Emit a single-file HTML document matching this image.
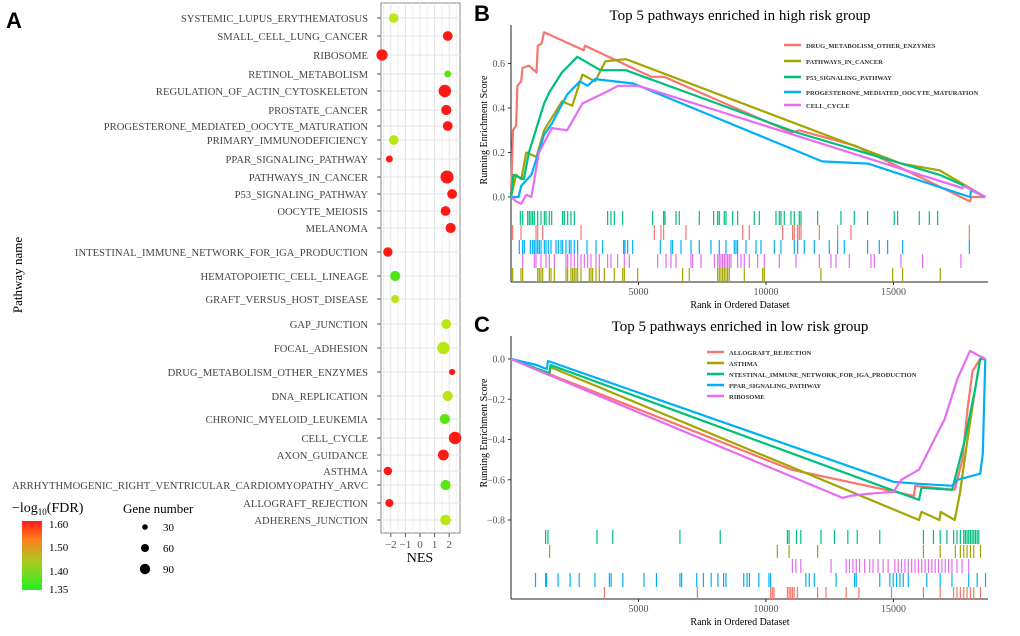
<!DOCTYPE html>
<html><head><meta charset="utf-8"><style>
body{margin:0;background:#fff;}
svg{display:block;font-family:"Liberation Serif",serif;}
</style></head><body>
<svg id="fig" width="1020" height="636" viewBox="0 0 1020 636"></svg>
<script>
// ---- Panel A data ----
const pathways=["SYSTEMIC_LUPUS_ERYTHEMATOSUS","SMALL_CELL_LUNG_CANCER","RIBOSOME","RETINOL_METABOLISM","REGULATION_OF_ACTIN_CYTOSKELETON","PROSTATE_CANCER","PROGESTERONE_MEDIATED_OOCYTE_MATURATION","PRIMARY_IMMUNODEFICIENCY","PPAR_SIGNALING_PATHWAY","PATHWAYS_IN_CANCER","P53_SIGNALING_PATHWAY","OOCYTE_MEIOSIS","MELANOMA","INTESTINAL_IMMUNE_NETWORK_FOR_IGA_PRODUCTION","HEMATOPOIETIC_CELL_LINEAGE","GRAFT_VERSUS_HOST_DISEASE","GAP_JUNCTION","FOCAL_ADHESION","DRUG_METABOLISM_OTHER_ENZYMES","DNA_REPLICATION","CHRONIC_MYELOID_LEUKEMIA","CELL_CYCLE","AXON_GUIDANCE","ASTHMA","ARRHYTHMOGENIC_RIGHT_VENTRICULAR_CARDIOMYOPATHY_ARVC","ALLOGRAFT_REJECTION","ADHERENS_JUNCTION"];
const rowY=[18,36,55,74,91,110,126,140,159,177,194,211,228,252,276,299,324,348,372,396,419,438,455,471,485,503,520];
const nes=[-1.8,1.9,-2.6,1.9,1.7,1.8,1.9,-1.8,-2.1,1.85,2.2,1.75,2.1,-2.2,-1.7,-1.7,1.8,1.6,2.2,1.9,1.7,2.4,1.6,-2.2,1.75,-2.1,1.75];
const geneNum=[45,50,70,20,90,55,50,50,20,100,50,50,55,45,55,30,50,90,15,55,55,90,65,35,55,30,60];
const fdr=[1.45,1.6,1.6,1.38,1.6,1.6,1.6,1.45,1.6,1.6,1.6,1.6,1.6,1.6,1.37,1.45,1.45,1.45,1.6,1.45,1.38,1.6,1.6,1.6,1.38,1.6,1.45];
const nesTicks=[-2,-1,0,1,2];
// ---- Panel B data ----
const bNames=["DRUG_METABOLISM_OTHER_ENZYMES","PATHWAYS_IN_CANCER","P53_SIGNALING_PATHWAY","PROGESTERONE_MEDIATED_OOCYTE_MATURATION","CELL_CYCLE"];
const bRed=[[0,0],[80,0.3],[200,0.32],[250,0.5],[400,0.52],[450,0.58],[700,0.59],[1000,0.56],[1050,0.68],[1200,0.69],[1300,0.74],[2850,0.66],[2900,0.68],[5500,0.54],[6000,0.54],[11000,0.29],[11300,0.30],[13500,0.23],[18000,-0.02],[18050,0.0],[18600,0]];
const bOlive=[[0,0],[200,0.1],[400,0.08],[600,0.2],[1000,0.18],[1300,0.3],[2000,0.43],[2400,0.41],[2800,0.55],[3300,0.52],[3700,0.61],[4500,0.62],[15300,0.15],[16800,0.12],[18600,0]];
const bGreen=[[0,0],[100,0.1],[500,0.08],[700,0.2],[1300,0.42],[1500,0.47],[2000,0.56],[2600,0.63],[3500,0.57],[4500,0.57],[11200,0.29],[16800,0.1],[17600,0.06],[18600,0]];
const bBlue=[[0,0],[300,0],[400,0.05],[800,0.1],[1300,0.28],[1600,0.33],[2200,0.46],[2700,0.52],[3000,0.5],[3300,0.53],[4800,0.51],[12200,0.16],[14000,0.15],[18000,0.0],[18050,0.03],[18600,0]];
const bPink=[[0,0],[200,-0.02],[400,-0.03],[600,0.01],[800,0.0],[1100,0.2],[1600,0.31],[2200,0.3],[2800,0.42],[3700,0.47],[4200,0.5],[5000,0.5],[17700,0.04],[17800,0.05],[18600,0]];
const bHitsGreen=[366,457,654,719,784,850,915,1046,1176,1307,1372,1503,1595,2026,2091,2222,2353,2483,3790,3921,4052,4378,5555,5986,6038,6470,6600,7385,7946,8103,8169,8365,8430,8692,8888,9541,9737,10391,10521,10587,10717,10979,11109,11305,11371,12024,12939,13462,13985,15030,15161,16011,16403,16730];
const bHitsRed=[65,392,980,1046,1242,2745,5620,5881,5986,6862,9084,9345,10652,11044,11109,11240,11305,11371,12090,12809,13332,17973];
const bHitsBlue=[327,457,523,758,850,915,980,1046,1111,1176,1307,1372,1464,1568,1764,1856,1961,2026,2157,2287,2353,2483,2614,2980,3333,3594,4418,4470,4575,4771,5855,6274,6339,6666,7058,7385,7842,8169,8430,8757,8823,8888,9215,9607,9803,10326,10587,11109,11240,11501,11893,12481,12809,13070,13985,14443,14770,15358,17973];
const bHitsPink=[457,915,980,1176,1372,1503,1699,2157,2222,2353,2483,2614,2745,2876,3006,3137,3333,3464,3790,3921,4182,4444,4640,5751,6078,6274,6470,7058,7123,7450,7973,8103,8169,8234,8300,8365,8430,8495,8561,8626,8888,9019,9149,9345,9672,9933,10521,11175,12090,12548,12744,13267,14116,14247,15292,16142,17645];
const bHitsOlive=[65,392,457,1046,1111,1176,1242,1503,1568,1699,2157,2222,2353,2418,2483,2549,2614,2745,3071,3137,3202,3333,3464,3660,4052,4378,4444,4967,6731,6992,8103,8169,8234,8300,8365,8430,8495,8561,9149,9868,9933,12155,14966,15358,16834];
const bYTicks=[0,0.2,0.4,0.6];
const xTicks=[5000,10000,15000];
// ---- Panel C data ----
const cNames=["ALLOGRAFT_REJECTION","ASTHMA","NTESTINAL_IMMUNE_NETWORK_FOR_IGA_PRODUCTION","PPAR_SIGNALING_PATHWAY","RIBOSOME"];
const cRed=[[0,0],[3600,-0.18],[11000,-0.55],[15800,-0.68],[15850,-0.63],[17400,-0.65],[17700,-0.5],[17900,-0.25],[18100,-0.06],[18400,0],[18600,0]];
const cOlive=[[0,0],[1500,-0.08],[1550,-0.04],[16000,-0.8],[16100,-0.76],[16800,-0.8],[16850,-0.76],[17400,-0.8],[17600,-0.67],[17900,-0.4],[18200,-0.15],[18400,0],[18600,0]];
const cGreen=[[0,0],[1500,-0.07],[1550,-0.03],[16000,-0.7],[16100,-0.64],[17300,-0.65],[17500,-0.55],[17800,-0.4],[18200,-0.15],[18400,0],[18600,0]];
const cBlue=[[0,0],[1000,-0.03],[1400,-0.05],[1450,-0.01],[15000,-0.61],[16000,-0.62],[17300,-0.63],[17500,-0.6],[18400,-0.57],[18500,-0.47],[18600,0]];
const cPink=[[0,0],[13000,-0.69],[13300,-0.68],[14000,-0.67],[15000,-0.66],[15300,-0.6],[16000,-0.55],[16600,-0.4],[17000,-0.3],[17500,-0.1],[18000,0.04],[18600,0]];
const cHitsGreen=[1357,1449,3372,3991,6625,8205,10839,10905,11195,11366,12156,12683,13209,13578,14461,16173,16568,16831,17095,17358,17490,17622,17753,17819,17885,17951,18017,18083,18148,18214,18280,18346];
const cHitsOlive=[1515,10444,10905,12024,16173,16831,17424,17622,17753,17885,18017,18148,18412];
const cHitsPink=[11036,11168,11366,12551,13144,13275,13407,13539,13670,13868,14066,14197,14395,14593,14790,15053,15185,15317,15448,15580,15712,15844,15975,16107,16239,16371,16502,16634,16766,16897,17029,17161,17292,17490,17688,17951];
const cHitsBlue=[961,1357,1396,1844,2318,2674,3293,3859,3925,4386,5215,5703,6625,6691,7283,7547,7850,8113,8337,8429,9127,9259,9351,9720,10115,10181,11563,11695,11893,12749,13473,13539,14461,14856,14988,15119,15251,15383,15580,16305,16831,17292,17951,18280,18609];
const cHitsRed=[3661,7309,10181,10247,10313,10839,10905,10970,11036,11102,11234,12024,12353,13144,13644,14922,16173,16831,17358,17490,17622,17753,17885,18017,18148,18412];
const cYTicks=[0,-0.2,-0.4,-0.6,-0.8];

const NS="http://www.w3.org/2000/svg";
const svg=document.getElementById('fig');
function el(tag,attrs,parent,text){const e=document.createElementNS(NS,tag);for(const k in attrs)e.setAttribute(k,attrs[k]);if(text!==undefined)e.textContent=text;(parent||svg).appendChild(e);return e;}

// ===== Panel A =====
const gA=el('g',{});


const lblA=el('text',{x:6,y:28,'font-family':'Liberation Sans, sans-serif','font-weight':'bold','font-size':22},gA,'A');


const nesX=v=>420+v*14.6;
el('rect',{x:381,y:3,width:79,height:530,fill:'#fff',stroke:'#888','stroke-width':1},gA);
for(let v=-2.5;v<=2.5;v+=0.5){el('line',{x1:nesX(v),x2:nesX(v),y1:3,y2:533,stroke:Number.isInteger(v)?'#e4e4e4':'#f0f0f0','stroke-width':1},gA);}
rowY.forEach(y=>el('line',{x1:381,x2:460,y1:y,y2:y,stroke:'#e4e4e4'},gA));
function fdrColor(f){const t=Math.max(0,Math.min(1,(f-1.35)/0.25));
 let r,g;if(t<0.5){r=Math.round(50+t*2*170);g=230;}else{r=255-Math.round((1-t)*2*35);g=Math.round(230-(t-0.5)*2*205);}return `rgb(${r},${g},20)`;}
pathways.forEach((p,i)=>{
 const t=el('text',{x:368,y:rowY[i]+4,'text-anchor':'end','font-size':10.6,fill:'#444'},gA,p);
 
 
 el('line',{x1:377,x2:381,y1:rowY[i],y2:rowY[i],stroke:'#555'},gA);
 const c=el('circle',{cx:nesX(nes[i]),cy:rowY[i],r:1+Math.sqrt(geneNum[i])*0.55,fill:fdrColor(fdr[i])},gA);
 
 
});
nesTicks.forEach(v=>{el('line',{x1:nesX(v),x2:nesX(v),y1:533,y2:537,stroke:'#555'},gA);
 const t=el('text',{x:nesX(v),y:548,'text-anchor':'middle','font-size':11,fill:'#555'},gA,v<0?'\u2212'+(-v):String(v));
 
 });
const nt=el('text',{x:420,y:562,'text-anchor':'middle','font-size':14},gA,'NES');


const pn=el('text',{x:0,y:0,'text-anchor':'middle','font-size':13,transform:'translate(22,275) rotate(-90)'},gA,'Pathway name');


// legends
const defs=el('defs',{});
const lg=el('linearGradient',{id:'cb',x1:0,y1:1,x2:0,y2:0},defs);
[['0','#22ee22'],['0.4','#aacc22'],['0.75','#ff7a1a'],['1','#ff1a1a']].forEach(s=>el('stop',{offset:s[0],'stop-color':s[1]},lg));
const lt=el('text',{x:12,y:512,'font-size':14},gA);


el('tspan',{},lt,'\u2212log');el('tspan',{'font-size':9,dy:3},lt,'10');el('tspan',{dy:-3},lt,'(FDR)');
const cbar=el('rect',{x:22,y:521,width:20,height:69,fill:'url(#cb)'},gA);


const cbLabels=['1.60','1.50','1.40','1.35'];const cbY=[528,551,575,593];
cbLabels.forEach((s,i)=>{const t=el('text',{x:49,y:cbY[i],'font-size':11},gA,s);
 
 });
const gt=el('text',{x:123,y:513,'font-size':13},gA,'Gene number');


const sizeVals=[30,60,90];const sizeY=[527,548,569];
sizeVals.forEach((v,i)=>{el('circle',{cx:145,cy:sizeY[i],r:2.8+1.2*i,fill:'#000'},gA);
 const t=el('text',{x:163,y:sizeY[i]+4,'font-size':11},gA,String(v));
 
 });

// ===== GSEA panels =====
function gsea(cfg){
 const g=el('g',{});
 
 
 const x=r=>511+r/5000*127.5;
 const y=v=>cfg.y0-v*cfg.ys;
 const L=el('text',{x:474,y:cfg.top+18,'font-family':'Liberation Sans, sans-serif','font-weight':'bold','font-size':22},g,cfg.letter);
 
 
 const T=el('text',{x:740,y:cfg.top+17,'text-anchor':'middle','font-size':15},g,cfg.title);
 
 
 el('line',{x1:511,x2:511,y1:cfg.top+22,y2:cfg.bottom,stroke:'#222','stroke-width':1},g);
 el('line',{x1:511,x2:988,y1:cfg.bottom,y2:cfg.bottom,stroke:'#222','stroke-width':1},g);
 cfg.yTicks.forEach(v=>{el('line',{x1:508,x2:511,y1:y(v),y2:y(v),stroke:'#333'},g);
  const t=el('text',{x:505,y:y(v)+3.5,'text-anchor':'end','font-size':10,fill:'#555'},g,v===0?'0.0':(v<0?'\u2212'+(-v).toFixed(1):v.toFixed(1)));
  
  });
 xTicks.forEach(v=>{el('line',{x1:x(v),x2:x(v),y1:cfg.bottom,y2:cfg.bottom+3,stroke:'#333'},g);
  const t=el('text',{x:x(v),y:cfg.bottom+13,'text-anchor':'middle','font-size':10,fill:'#555'},g,String(v));
  
  });
 const xt=el('text',{x:740,y:cfg.bottom+26,'text-anchor':'middle','font-size':10},g,'Rank in Ordered Dataset');
 
 
 const yt=el('text',{'text-anchor':'middle','font-size':10,transform:`translate(487,${cfg.yMid}) rotate(-90)`},g,'Running Enrichment Score');
 
 
 cfg.hits.forEach(h=>{h.arr.forEach(r=>{const l=el('line',{x1:x(r),x2:x(r),y1:h.y1,y2:h.y2,stroke:h.c,'stroke-width':1.2},g);
  
  });});
 cfg.series.forEach((s,k)=>{
  let d='';s.pts.forEach((p,i)=>{d+=(i?'L':'M')+x(p[0]).toFixed(1)+','+y(p[1]).toFixed(1);});
  const pth=el('path',{d:d,fill:'none',stroke:s.c,'stroke-width':2.2,'stroke-linejoin':'round'},g);
  
  
  const ly=cfg.legY[k];
  el('line',{x1:cfg.legX,x2:cfg.legX+17,y1:ly,y2:ly,stroke:s.c,'stroke-width':2.5},g);
  const t=el('text',{x:cfg.legX+22,y:ly+3,'font-size':6.5,'font-weight':'bold',fill:'#333'},g,s.n);
  
  
 });
}
const RED='#f8766d',OLIVE='#a3a500',GREEN='#00bf7d',BLUE='#00b0f6',PINK='#e76bf3';
gsea({name:'panel-b-gsea-high-risk',letter:'B',title:'Top 5 pathways enriched in high risk group',top:3,bottom:282,y0:197,ys:222.5,yMid:130,
 yTicks:bYTicks,legX:784,legY:[45,61,77,92,105],
 series:[{n:bNames[0],c:RED,pts:bRed},{n:bNames[1],c:OLIVE,pts:bOlive},{n:bNames[2],c:GREEN,pts:bGreen},{n:bNames[3],c:BLUE,pts:bBlue},{n:bNames[4],c:PINK,pts:bPink}],
 hits:[{arr:bHitsGreen,c:GREEN,y1:211,y2:225},{arr:bHitsRed,c:RED,y1:225,y2:240},{arr:bHitsBlue,c:BLUE,y1:240,y2:254},{arr:bHitsPink,c:PINK,y1:254,y2:268},{arr:bHitsOlive,c:OLIVE,y1:268,y2:282}]});
gsea({name:'panel-c-gsea-low-risk',letter:'C',title:'Top 5 pathways enriched in low risk group',top:314,bottom:599,y0:359,ys:201.25,yMid:433,
 yTicks:cYTicks,legX:707,legY:[352,363,374,385,396],
 series:[{n:cNames[0],c:RED,pts:cRed},{n:cNames[1],c:OLIVE,pts:cOlive},{n:cNames[2],c:GREEN,pts:cGreen},{n:cNames[3],c:BLUE,pts:cBlue},{n:cNames[4],c:PINK,pts:cPink}],
 hits:[{arr:cHitsGreen,c:GREEN,y1:530,y2:544},{arr:cHitsOlive,c:OLIVE,y1:545,y2:558},{arr:cHitsPink,c:PINK,y1:559,y2:573},{arr:cHitsBlue,c:BLUE,y1:573,y2:587},{arr:cHitsRed,c:RED,y1:587,y2:599}]});
</script>
</body></html>
